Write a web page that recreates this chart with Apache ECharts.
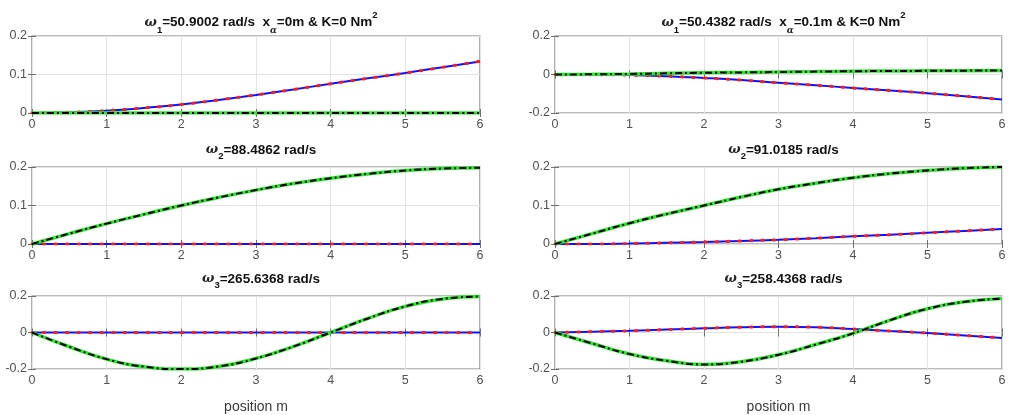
<!DOCTYPE html>
<html><head><meta charset="utf-8">
<script src="https://cdn.jsdelivr.net/npm/echarts@6/dist/echarts.min.js"></script>
<style>html,body{margin:0;padding:0;background:#fff}#c{width:1010px;height:415px}</style>
</head><body><div id="c"></div>
<script>
const xPos = [0,0.5,1,1.5,2,2.5,3,3.5,4,4.5,5,5.5,6];
const xTicks = [0,1,2,3,4,5,6];
// panel 1 left/right (mode 1)
const blue1L  = [0,0.002,0.006,0.013,0.022,0.034,0.047,0.061,0.076,0.09,0.104,0.119,0.134];
const green1L = [0,0,0,0,0,0,0,0,0,0,0,0,0];
const blue1R  = [0,-0.001,-0.003,-0.009,-0.018,-0.029,-0.043,-0.056,-0.07,-0.083,-0.097,-0.113,-0.13];
const green1R = [0,0.001,0.003,0.006,0.009,0.011,0.013,0.015,0.017,0.018,0.019,0.02,0.021];
// panel 2 (mode 2)
const blue2L  = [0,0,0,0,0,0,0,0,0,0,0,0,0];
const green2L = [0,0.027,0.053,0.077,0.1,0.121,0.14,0.157,0.171,0.182,0.191,0.196,0.198];
const blue2R  = [0,0,0.001,0.003,0.005,0.008,0.011,0.015,0.02,0.024,0.029,0.034,0.039];
const green2R = [0,0.027,0.054,0.078,0.1,0.122,0.142,0.158,0.172,0.183,0.191,0.197,0.2];
// panel 3 (mode 3)
const blue3L  = [0,0,0,0,0,0,0,0,0,0,0,0,0];
const green3L = [0,-0.078,-0.146,-0.187,-0.2,-0.186,-0.142,-0.077,0,0.077,0.143,0.184,0.197];
const blue3R  = [0,0.004,0.009,0.016,0.023,0.029,0.032,0.029,0.019,0.008,-0.003,-0.016,-0.03];
const green3R = [0,-0.06,-0.118,-0.155,-0.175,-0.16,-0.122,-0.066,-0.005,0.068,0.13,0.168,0.186];

const titles = [
  '{w|ω}{sub|1}{b|=50.9002 rad/s  x}{suba|α}{b|=0m & K=0 Nm}{sup|2}',
  '{w|ω}{sub|1}{b|=50.4382 rad/s  x}{suba|α}{b|=0.1m & K=0 Nm}{sup|2}',
  '{w|ω}{sub|2}{b|=88.4862 rad/s}',
  '{w|ω}{sub|2}{b|=91.0185 rad/s}',
  '{w|ω}{sub|3}{b|=265.6368 rad/s}',
  '{w|ω}{sub|3}{b|=258.4368 rad/s}'
];
const yRanges = [[0,0.2,0.1],[-0.2,0.2,0.2],[0,0.2,0.1],[0,0.2,0.1],[-0.2,0.2,0.2],[-0.2,0.2,0.2]];
const panelData = [[blue1L,green1L],[blue1R,green1R],[blue2L,green2L],[blue2R,green2R],[blue3L,green3L],[blue3R,green3R]];

const colL = [32, 448], colR = [555, 447];
const rowTops = [36, 167, 296], rowH = 77;
const titleTops = [5, 134, 263];
const font = 'Liberation Sans, Arial, sans-serif';
const labelColor = '#505050';

const grids=[], xAxes=[], yAxes=[], series=[], titleArr=[];
const rich = {
  w:{fontFamily:'DejaVu Serif, serif',fontStyle:'italic',fontSize:13,color:'#222'},
  b:{fontFamily:font,fontWeight:'bold',fontSize:13.5,color:'#111'},
  sub:{fontFamily:font,fontWeight:'bold',fontSize:9.5,color:'#111',verticalAlign:'bottom',padding:[12,0,0,0]},
  suba:{fontFamily:'DejaVu Serif, serif',fontStyle:'italic',fontSize:9,color:'#222',verticalAlign:'bottom',padding:[16,0,0,0]},
  sup:{fontFamily:font,fontWeight:'bold',fontSize:9.5,color:'#111',verticalAlign:'top',padding:[0,0,9,0]}
};
for (let i=0;i<6;i++){
  const col = (i%2===0)?colL:colR, row=Math.floor(i/2);
  grids.push({left:col[0],top:rowTops[row],width:col[1],height:rowH,show:true,borderColor:'#7a7a7a',borderWidth:1.2,backgroundColor:'#fff'});
  titleArr.push({text:titles[i],left:col[0]+col[1]/2,top:titleTops[row],textAlign:'center',textStyle:{rich:rich}});
  const bottom = row===2;
  xAxes.push({type:'value',gridIndex:i,min:0,max:6,interval:1,
    axisLine:{show:false},axisTick:{show:true,inside:true,length:4,lineStyle:{color:'#707070'}},
    axisLabel:{color:labelColor,fontFamily:font,fontSize:12.5,margin:5},
    splitLine:{show:true,lineStyle:{color:'#e3e3e3',width:1}},
    name:bottom?'position m':'',nameLocation:'middle',nameGap:31,
    nameTextStyle:{color:'#3a3a3a',fontFamily:font,fontSize:14}});
  xAxes.push({type:'value',gridIndex:i,min:0,max:6,interval:1,position:'top',
    axisLine:{show:false},axisTick:{show:true,inside:true,length:4,lineStyle:{color:'#707070'}},
    axisLabel:{show:false},splitLine:{show:false}});
  const yr=yRanges[i];
  yAxes.push({type:'value',gridIndex:i,min:yr[0],max:yr[1],interval:yr[2],
    axisLine:{show:false},axisTick:{show:true,inside:true,length:4,lineStyle:{color:'#707070'}},
    axisLabel:{color:labelColor,fontFamily:font,fontSize:12.5,margin:5},
    splitLine:{show:true,lineStyle:{color:'#e3e3e3',width:1}}});
  yAxes.push({type:'value',gridIndex:i,min:yr[0],max:yr[1],interval:yr[2],position:'right',
    axisLine:{show:false},axisTick:{show:true,inside:true,length:4,lineStyle:{color:'#707070'}},
    axisLabel:{show:false},splitLine:{show:false}});
  const [bl,gr]=panelData[i];
  const bd=xPos.map((x,k)=>[x,bl[k]]), gd=xPos.map((x,k)=>[x,gr[k]]);
  const base={type:'line',xAxisIndex:2*i,yAxisIndex:2*i,showSymbol:false,symbol:'none',smooth:0.5,silent:true,animation:false};
  series.push(Object.assign({},base,{data:bd,lineStyle:{color:'#1010ff',width:2},z:2}));
  series.push(Object.assign({},base,{data:bd,lineStyle:{color:'#ff1a1a',width:3,type:[1.5,10],cap:'round'},z:3}));
  series.push(Object.assign({},base,{data:gd,lineStyle:{color:'#2ee82e',width:3.5},z:4}));
  series.push(Object.assign({},base,{data:gd,lineStyle:{color:'#000',width:2,type:[7,3,2,3]},z:5}));
}
const chart=echarts.init(document.getElementById('c'),null,{renderer:'canvas'});
chart.setOption({animation:false,backgroundColor:'#fff',title:titleArr,grid:grids,xAxis:xAxes,yAxis:yAxes,series:series});
</script></body></html>
